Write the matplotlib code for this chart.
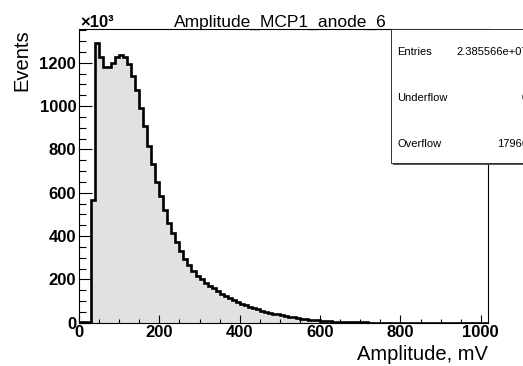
import numpy as np
import matplotlib
matplotlib.use("Agg")
import matplotlib.pyplot as plt
from matplotlib.patches import Rectangle

plt.rcParams['font.family'] = ['Liberation Sans', 'DejaVu Sans']

# histogram: 10 mV bins from 0 to 1020 mV, counts in units of 10^3
x_lo, x_hi, n_bins = 0, 1020, 102
counts = [
    2, 1, 3, 566, 1290, 1225, 1180, 1180, 1197, 1224,
    1237, 1224, 1193, 1139, 1073, 993, 908, 817, 732, 651,
    585, 520, 462, 415, 371, 331, 294, 266, 240, 217,
    200, 185, 171, 158, 146, 134, 123, 113, 104, 95,
    87, 80, 73, 67, 61, 56, 51, 46, 42, 38,
    34, 30, 27, 24, 21, 18.5, 16, 14, 12, 10.5,
    9, 7.6, 6.4, 5.4, 4.5, 3.7, 3.0, 2.5, 2.0, 1.6,
    1.3, 1.0, 0.8, 0.65, 0.5, 0.4, 0.3, 0.25, 0.2, 0.15,
    0.12, 0.1, 0.08, 0.06, 0.05, 0.04, 0.03, 0.02, 0.02, 0.01,
    0.01, 0.01, 0, 0, 0, 0, 0, 0, 0, 0,
    0, 0,
]
x_ticks = [0, 200, 400, 600, 800, 1000]
y_ticks = [0, 200, 400, 600, 800, 1000, 1200]

stat_names = ["Entries", "Underflow", "Overflow"]
stat_values = ["2.385566e+07", "0", "17966"]

W, H = 523, 366
fig = plt.figure(figsize=(W / 100, H / 100), dpi=100)
ax = fig.add_axes([79 / W, (H - 322.7) / H, 409 / W, 293.4 / H])

edges = np.linspace(x_lo, x_hi, n_bins + 1)
ax.stairs(counts, edges, fill=True, color="#e1e1e1", zorder=1)
ax.stairs(counts, edges, color="black", linewidth=1.9, zorder=2)

ax.set_xlim(0, 1018)
ax.set_ylim(0, 1354)
ax.set_xticks(x_ticks)
ax.set_yticks(y_ticks)
ax.set_xticks(np.arange(0, 1001, 50), minor=True)
ax.set_yticks(np.arange(0, 1351, 50), minor=True)
ax.tick_params(axis="y", which="major", direction="in", length=9, width=0.8, pad=2)
ax.tick_params(axis="y", which="minor", direction="in", length=5, width=0.8)
ax.tick_params(axis="x", which="major", direction="in", length=5.8, width=0.8, pad=2)
ax.tick_params(axis="x", which="minor", direction="in", length=3.1, width=0.8)
for lab in ax.get_xticklabels() + ax.get_yticklabels():
    lab.set_fontweight("bold")
    lab.set_fontsize(12)
for s in ax.spines.values():
    s.set_linewidth(0.8)

ax.set_xlabel("Amplitude, mV", fontsize=14.5, loc="right", labelpad=3)
ax.set_ylabel("Events", fontsize=14.5, loc="top", labelpad=6)

fig.text(280 / W, 1 - 27 / H, "Amplitude_MCP1_anode_6", fontsize=12.5,
         ha="center", va="baseline")
fig.text(80 / W, 1 - 27 / H, "×10³", fontsize=12, fontweight="bold",
         ha="left", va="baseline")

# stats box, cut off at the right edge like the original
box_l, box_t, box_b = 391 / W, 1 - 29.3 / H, 1 - 163.3 / H
fig.patches.append(Rectangle((box_l + 2 / W, box_b - 2 / H), 0.3, box_t - box_b,
                             transform=fig.transFigure, facecolor="#555555",
                             edgecolor="none", zorder=5))
fig.patches.append(Rectangle((box_l, box_b), 0.3, box_t - box_b,
                             transform=fig.transFigure, facecolor="white",
                             edgecolor="#333333", linewidth=0.7, zorder=6))
rows_y = [52.3, 98.3, 144.3]
for name, val, yy in zip(stat_names, stat_values, rows_y):
    fig.text(397 / W, 1 - yy / H, name, fontsize=8, ha="left", va="center", zorder=7)
    fig.text(528 / W, 1 - yy / H, val, fontsize=8, ha="right", va="center", zorder=7)

fig.savefig("out.png", dpi=100)
